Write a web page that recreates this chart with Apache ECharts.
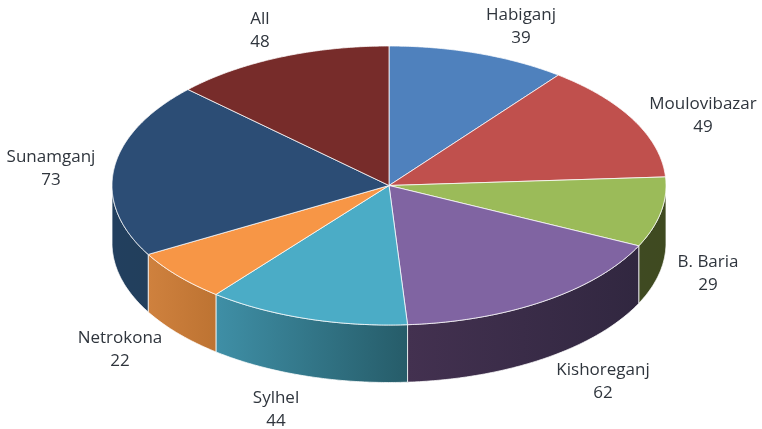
<!DOCTYPE html>
<html>
<head>
<meta charset="utf-8">
<script src="https://cdn.jsdelivr.net/npm/echarts@6/dist/echarts.min.js"></script>
<style>
  html, body { margin: 0; padding: 0; background: #fff; }
  #main { width: 762px; height: 429px; }
</style>
</head>
<body>
<div id="main"></div>
<script>
const categories = ['Habiganj', 'Moulovibazar', 'B. Baria', 'Kishoreganj', 'Sylhel', 'Netrokona', 'Sunamganj', 'All'];
const values = [39, 49, 29, 62, 44, 22, 73, 48];

const topColors = ['#4f81bd', '#c0504d', '#9bbb59', '#8064a2', '#4bacc6', '#f79646', '#2c4d75', '#772c2a'];
// side wall colours, [left, right] of each slice
const wallColors = [
  ['#3b618e', '#3b618e'], ['#903c3a', '#903c3a'], ['#3f4a22', '#3f4a20'], ['#433150', '#312740'],
  ['#3f8fa6', '#265c69'], ['#cf813e', '#bd7332'], ['#223f5e', '#223f5c'], ['#592120', '#592120']
];
// label centres in px
const labelX = [521, 703, 708, 603, 276, 120, 51, 260];
const labelY = [27, 116, 274, 382, 410, 350, 169, 31];

const CX = 389, CY = 185.5, RX = 277, RY = 139.5, DEPTH = 57.5;
const TILT = 0.976; // slices lean slightly toward the vertical axis in the tilted view
const EDGE = 'rgba(255,255,255,0.75)';

const total = values.reduce((a, b) => a + b, 0);
const starts = [];
values.reduce((sum, v, i) => { starts[i] = sum; return sum + v; }, 0);

function toAngle(v) {
  const a = echarts.number.linearMap(v, [0, total], [0, Math.PI * 2]);
  const t = Math.atan2(Math.sin(a) * TILT, Math.cos(a));
  return t < 0 || v >= total ? t + Math.PI * 2 : t;
}
function rimPoint(a, dy) {
  return [CX + RX * Math.sin(a), CY - RY * Math.cos(a) + dy];
}
function arcPoints(a0, a1, dy) {
  const pts = [];
  const n = Math.max(2, Math.ceil((a1 - a0) * 180 / Math.PI * 2));
  for (let k = 0; k <= n; k++) {
    pts.push(rimPoint(a0 + (a1 - a0) * k / n, dy));
  }
  return pts;
}

function renderWall(params, api) {
  const i = params.dataIndex;
  const a0 = Math.max(toAngle(api.value(1)), Math.PI / 2);
  const a1 = Math.min(toAngle(api.value(1) + api.value(0)), Math.PI * 1.5);
  if (a1 <= a0) return null;
  const upper = arcPoints(a0, a1, 0);
  const lower = arcPoints(a0, a1, DEPTH).reverse();
  const xs = upper.map(p => p[0]);
  return {
    type: 'polygon',
    shape: { points: upper.concat(lower) },
    style: {
      fill: new echarts.graphic.LinearGradient(Math.min(...xs), 0, Math.max(...xs), 0, [
        { offset: 0, color: wallColors[i][0] },
        { offset: 1, color: wallColors[i][1] }
      ], true),
      stroke: EDGE,
      lineWidth: 1
    }
  };
}

function renderTop(params, api) {
  const i = params.dataIndex;
  const a0 = toAngle(api.value(1));
  const a1 = toAngle(api.value(1) + api.value(0));
  return {
    type: 'polygon',
    shape: { points: [[CX, CY]].concat(arcPoints(a0, a1, 0)) },
    style: { fill: topColors[i], stroke: EDGE, lineWidth: 1 }
  };
}

function renderLabel(params, api) {
  const i = params.dataIndex;
  return {
    type: 'text',
    style: {
      x: labelX[i],
      y: labelY[i],
      text: categories[i] + '\n' + api.value(0),
      align: 'center',
      verticalAlign: 'middle',
      fill: '#2f353d',
      font: '17px "Open Sans", sans-serif',
      lineHeight: 23
    }
  };
}

const seriesData = values.map((v, i) => ({ name: categories[i], value: [v, starts[i]] }));

const chart = echarts.init(document.getElementById('main'));
chart.setOption({
  animation: false,
  backgroundColor: '#fff',
  series: [
    { type: 'custom', coordinateSystem: 'none', renderItem: renderWall, data: seriesData, z: 1 },
    { type: 'custom', coordinateSystem: 'none', renderItem: renderTop, data: seriesData, z: 2 },
    { type: 'custom', coordinateSystem: 'none', renderItem: renderLabel, data: seriesData, z: 3 }
  ]
});
</script>
</body>
</html>
